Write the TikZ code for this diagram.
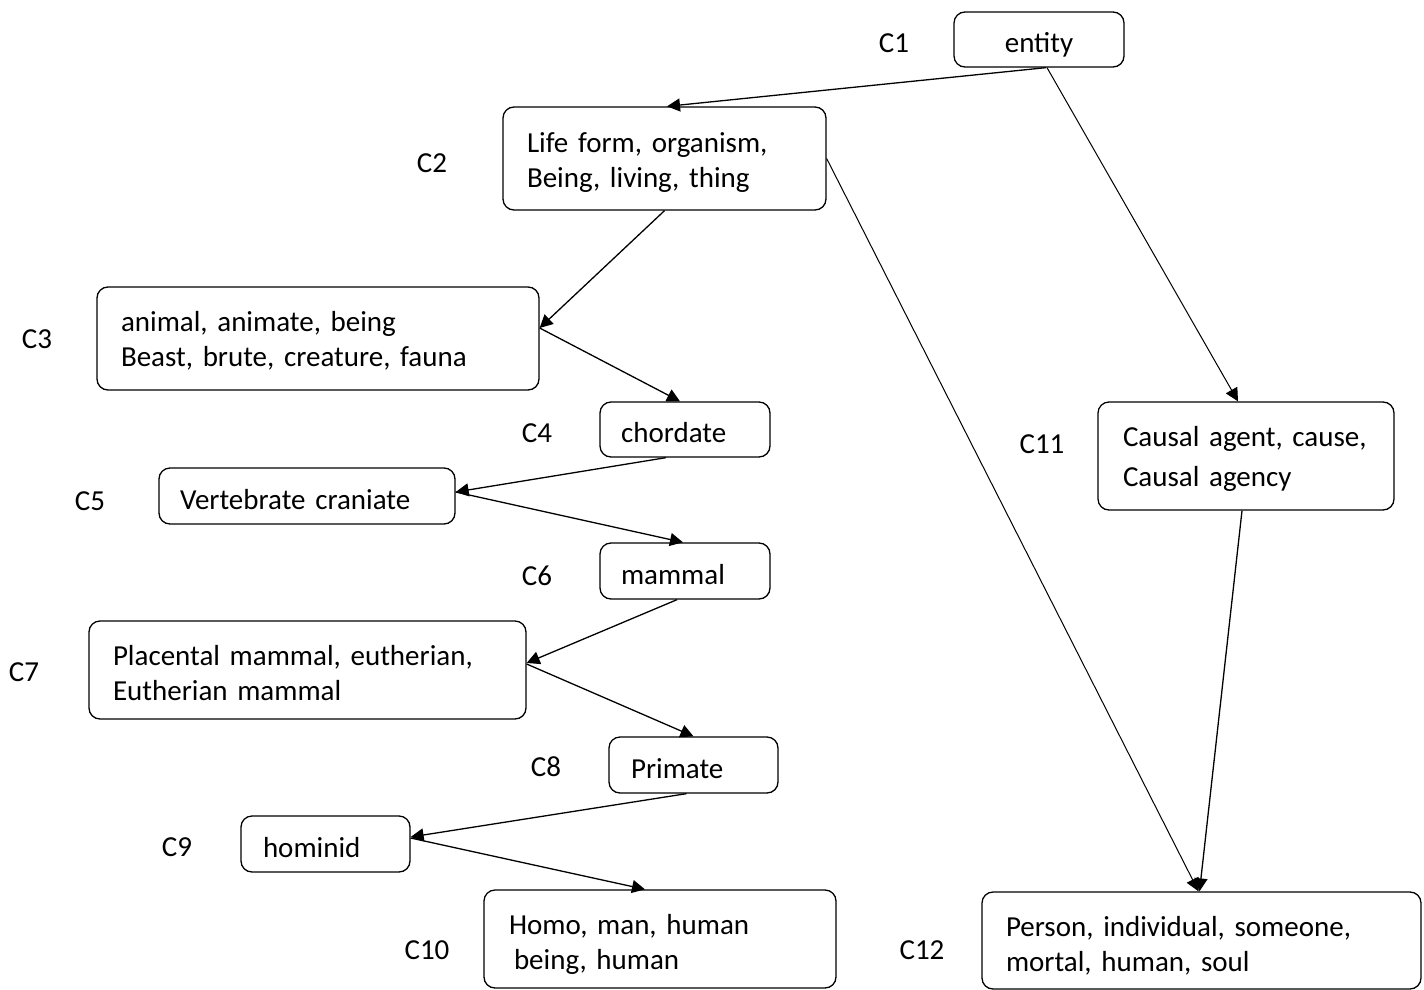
\documentclass[tikz,border=0pt]{standalone}
\usepackage{fontspec}
\setmainfont{Carlito}
\usetikzlibrary{arrows.meta}

% fixed first-line height and last-line depth, so every box sets its text alike
\newlength{\boxtopht}
\setlength{\boxtopht}{34pt}
\newcommand{\boxtop}{\rule{0pt}{\boxtopht}}
\newcommand{\boxbot}{\rule[-8pt]{0pt}{0pt}}

\begin{document}
\begin{tikzpicture}[x=1pt, y=-1pt,
  every node/.style={font=\fontsize{29}{35}\selectfont},
  box/.style={draw, line width=1.3pt, rounded corners=11pt, align=left,
              inner ysep=0pt, inner xsep=24pt,
              execute at begin node=\boxtop, execute at end node=\boxbot},
  toph/.code={\setlength{\boxtopht}{#1}},
  smallbox/.style={box, inner xsep=21pt},
  tag/.style={inner sep=0pt},
  link/.style={line width=1.3pt, -{Triangle[length=13pt,width=13pt]}},
  longlink/.style={line width=1pt, -{Triangle[length=13pt,width=13pt]}}]

  \useasboundingbox (0,0) rectangle (1424,990);

  % concept boxes
  \node[box, align=center, text width=122pt, minimum height=55pt] (e) at (1039,39.5) {entity};
  \node[box, toph=30pt, text width=275pt, minimum height=103pt] (c2) at (664.5,158.5)
    {Life form, organism,\\Being, living, thing};
  \node[box, toph=28pt, text width=394pt, minimum height=103pt] (c3) at (318,338.5)
    {animal, animate, being\\Beast, brute, creature, fauna};
  \node[smallbox, text width=128pt, minimum height=55pt] (c4) at (685,429.5) {chordate};
  \node[smallbox, text width=254pt, minimum height=56pt] (c5) at (307,496) {Vertebrate craniate};
  \node[smallbox, text width=128pt, minimum height=56pt] (c6) at (685,571) {mammal};
  \node[box, text width=389pt, minimum height=98pt] (c7) at (307.5,670)
    {Placental mammal, eutherian,\\Eutherian mammal};
  \node[smallbox, inner xsep=22pt, text width=125pt, minimum height=56pt] (c8) at (693.5,765) {Primate};
  \node[smallbox, inner xsep=22pt, text width=125pt, minimum height=56pt] (c9) at (325.5,844) {hominid};
  \node[box, inner xsep=25pt, text width=302pt, minimum height=98pt] (c10) at (660,939)
    {Homo, man, human\\\hspace*{5pt}being, human};
  \node[box, toph=28pt, inner xsep=25pt, text width=246pt, minimum height=108pt,
        font=\fontsize{29}{40}\selectfont] (c11) at (1246,456)
    {Causal agent, cause,\\Causal agency};
  \node[box, text width=391pt, minimum height=97pt] (c12) at (1201.5,940.5)
    {Person, individual, someone,\\mortal, human, soul};

  % concept labels
  \node[tag] (l1) at (894,43) {C1};
  \node[tag] (l2) at (432,163) {C2};
  \node[tag] (l3) at (37,339) {C3};
  \node[tag] (l4) at (537,433) {C4};
  \node[tag] (l5) at (90,501) {C5};
  \node[tag] (l6) at (537,576) {C6};
  \node[tag] (l7) at (24,672) {C7};
  \node[tag] (l8) at (546,767) {C8};
  \node[tag] (l9) at (177,847) {C9};
  \node[tag] (l10) at (427,950) {C10};
  \node[tag] (l11) at (1042,444) {C11};
  \node[tag] (l12) at (922,950) {C12};

  % hypernym links
  \draw[link] ([xshift=7pt]e.south) -- ([xshift=2.5pt]c2.north);
  \draw[longlink] ([xshift=8pt]e.south) -- ([xshift=-8pt]c11.north);
  \draw[link] (c2.south) -- ([yshift=10.5pt]c3.east);
  \draw[longlink] (c2.east) -- ([xshift=-3pt]c12.north);
  \draw[link] ([yshift=10.5pt]c3.east) -- ([xshift=-5pt]c4.north);
  \draw[link] ([xshift=-19pt]c4.south) -- ([yshift=4pt]c5.east);
  \draw[link] ([yshift=4pt]c5.east) -- ([xshift=-2pt]c6.north);
  \draw[link] ([xshift=-8pt]c6.south) -- ([yshift=7pt]c7.east);
  \draw[link] ([yshift=6pt]c7.east) -- (c8.north);
  \draw[link] ([xshift=-7pt]c8.south) -- ([yshift=7pt]c9.east);
  \draw[link] ([yshift=6pt]c9.east) -- ([xshift=-15pt]c10.north);
  \draw[link] ([xshift=-4pt]c11.south) -- ([xshift=-2pt]c12.north);
\end{tikzpicture}
\end{document}
